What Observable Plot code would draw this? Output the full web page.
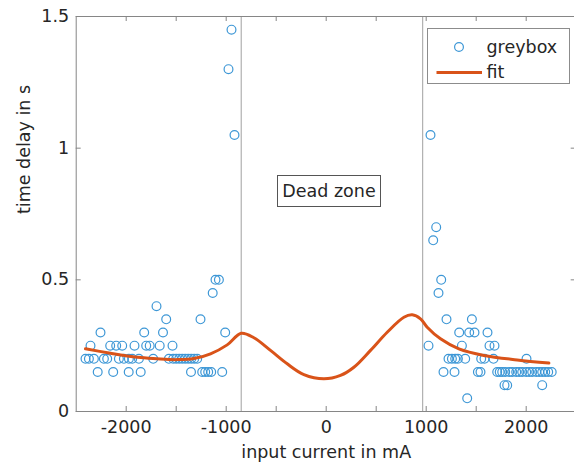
<!DOCTYPE html>
<html><head><meta charset="utf-8">
<script src="https://cdn.jsdelivr.net/npm/d3@7"></script>
<script src="https://cdn.jsdelivr.net/npm/@observablehq/plot@0.6"></script>
<style>
body{margin:0;background:#fff;}
#wrap{position:relative;width:574px;height:470px;overflow:hidden;font-family:"DejaVu Sans",sans-serif;color:#262626;}
#legend{position:absolute;left:427px;top:28px;width:141px;height:54px;border:1px solid #8c8c8c;background:#fff;}
#dz{position:absolute;left:277px;top:175px;width:102px;height:30px;border:1px solid #555;background:#fff;font-size:17.5px;line-height:30px;text-align:center;}
</style></head><body>
<div id="wrap"></div>
<script>
// ---- data ----
const pointCurrent = [
  -2407,-2373,-2323,-2223,-2190,-2073,-2023,-1973,-1940,-1873,-1730,-1573,-1530,-1500,-1470,-1440,-1410,-1380,-1350,-1320,-1290,
  -2285,-2130,-1975,-1855,-1352,-1240,-1210,-1180,-1150,-1040,
  -2357,-2160,-2100,-2040,-1917,-1800,-1765,-1665,-1537,
  -2257,-1820,-1632,-1010,
  -1600,-1257,
  -1697,
  -1135,
  -1107,-1073,
  -977,-947,-917,
  1043,1070,1100,1150,1123,1203,1457,
  1330,1430,1483,1613,
  1023,1357,1633,1683,
  1223,1257,1290,1317,1390,1550,1583,1673,2003,
  1173,1283,1517,1543,
  1710,1735,1760,1790,1830,1860,1900,1930,1960,2000,2030,2060,2100,2130,2160,2190,2220,2255,
  1783,1810,2160,
  1410
];
const pointDelay = [
  0.2,0.2,0.2,0.2,0.2,0.2,0.2,0.2,0.2,0.2,0.2,0.2,0.2,0.2,0.2,0.2,0.2,0.2,0.2,0.2,0.2,
  0.15,0.15,0.15,0.15,0.15,0.15,0.15,0.15,0.15,0.15,
  0.25,0.25,0.25,0.25,0.25,0.25,0.25,0.25,0.25,
  0.3,0.3,0.3,0.3,
  0.35,0.35,
  0.4,
  0.45,
  0.5,0.5,
  1.3,1.45,1.05,
  1.05,0.65,0.7,0.5,0.45,0.35,0.35,
  0.3,0.3,0.3,0.3,
  0.25,0.25,0.25,0.25,
  0.2,0.2,0.2,0.2,0.2,0.2,0.2,0.2,0.2,
  0.15,0.15,0.15,0.15,
  0.15,0.15,0.15,0.15,0.15,0.15,0.15,0.15,0.15,0.15,0.15,0.15,0.15,0.15,0.15,0.15,0.15,0.15,
  0.1,0.1,0.1,
  0.05
];
const fitCurrent = [-2407,-2157,-1990,-1823,-1657,-1490,-1323,-1157,-990,-850,-723,-557,-390,-223,-23,143,277,443,610,777,860,943,1010,1143,1327,1577,1910,2227];
const fitDelay   = [0.238,0.221,0.211,0.204,0.199,0.197,0.201,0.219,0.253,0.297,0.28,0.232,0.181,0.14,0.124,0.137,0.168,0.232,0.301,0.358,0.367,0.352,0.32,0.276,0.238,0.213,0.196,0.184];
const deadZoneEdges = [-850, 965];
const xTickValues = [-2000,-1500,-1000,-500,0,500,1000,1500,2000];
const xTickLabels = [-2000,-1000,0,1000,2000];
const yTickValues = [0,0.5,1,1.5];
const yTickLabels = ["0","0.5","1","1.5"];
const xLabel = "input current in mA";
const yLabel = "time delay in s";

const points = pointCurrent.map((x,i)=>({x, y: pointDelay[i]}));
const fit = fitCurrent.map((x,i)=>({x, y: fitDelay[i]}));

const W = 574, H = 470;
const mL = 75.7, mR = -1.7, mT = 16, mB = 59;
const pw = W - mL - mR, ph = H - mT - mB;
const axisColor = "#868686", textColor = "#262626";
const blue = "#3d97d6", orange = "#D95319";

const chart = Plot.plot({
  width: W, height: H,
  marginLeft: mL, marginRight: mR, marginTop: mT, marginBottom: mB,
  style: {fontFamily: "DejaVu Sans, sans-serif", fontSize: "17.5px", color: textColor, background: "#fff"},
  x: {domain: [-2500, 2500], axis: null},
  y: {domain: [0, 1.5], axis: null},
  marks: [
    Plot.ruleX(deadZoneEdges, {x: d=>d, stroke: "#a0a0a0", strokeWidth: 1}),
    Plot.dot(points, {x: "x", y: "y", r: 4.4, stroke: blue, strokeWidth: 1.2, fill: "none"}),
    Plot.line(fit, {x: "x", y: "y", stroke: orange, strokeWidth: 3, curve: "catmull-rom"}),
    Plot.frame({stroke: axisColor, strokeWidth: 1}),
    Plot.tickX(xTickValues, {x: d=>d, stroke: axisColor, insetTop: ph - 5}),
    Plot.tickX(xTickValues, {x: d=>d, stroke: axisColor, insetBottom: ph - 5}),
    Plot.tickY(yTickValues, {y: d=>d, stroke: axisColor, insetRight: pw - 5}),
    Plot.tickY(yTickValues, {y: d=>d, stroke: axisColor, insetLeft: pw - 5}),
    Plot.text(xTickLabels, {x: d=>d, frameAnchor: "bottom", lineAnchor: "top", dy: 9, text: d=>String(d), fill: textColor}),
    Plot.text(yTickValues, {y: d=>d, frameAnchor: "left", textAnchor: "end", dx: -7, text: (d,i)=>yTickLabels[i], fill: textColor}),
    Plot.text([xLabel], {frameAnchor: "bottom", lineAnchor: "top", dy: 34, text: d=>d, fill: textColor}),
    Plot.text([yLabel], {frameAnchor: "left", rotate: -90, dx: -52, text: d=>d, fill: textColor})
  ]
});

const wrap = document.getElementById("wrap");
wrap.appendChild(chart);

const dz = document.createElement("div");
dz.id = "dz"; dz.textContent = "Dead zone";
wrap.appendChild(dz);

const lg = document.createElement("div");
lg.id = "legend";
lg.innerHTML = `<svg width="141" height="54" style="display:block;font-family:'DejaVu Sans',sans-serif;font-size:17.5px;">
  <circle cx="31" cy="18" r="4.4" fill="none" stroke="${blue}" stroke-width="1.2"/>
  <text x="58.5" y="18" dy="0.32em" fill="${textColor}">greybox</text>
  <line x1="8.5" x2="54" y1="43.5" y2="43.5" stroke="${orange}" stroke-width="3"/>
  <text x="58.5" y="43.5" dy="0.32em" fill="${textColor}">fit</text>
</svg>`;
wrap.appendChild(lg);
</script>
</body></html>
